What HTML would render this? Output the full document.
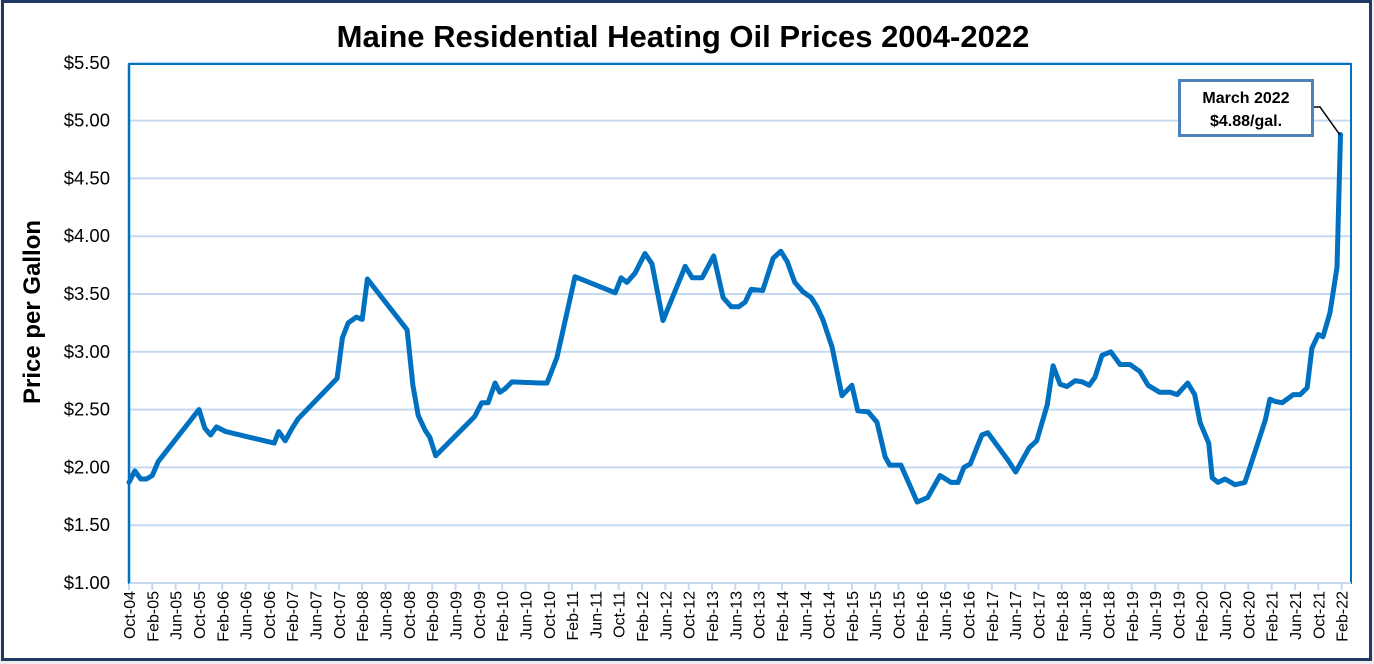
<!DOCTYPE html>
<html><head><meta charset="utf-8"><style>
html,body{margin:0;padding:0;background:#fff;}
svg{display:block;font-family:"Liberation Sans",sans-serif;}
</style></head><body>
<svg id="chart" width="1374" height="664" viewBox="0 0 1374 664" xmlns="http://www.w3.org/2000/svg">
<rect x="0" y="0" width="1374" height="664" fill="#eeeeee"/>
<rect x="2.5" y="1.5" width="1368" height="658" fill="#fff" stroke="#203864" stroke-width="3"/>
<text x="683" y="47" text-anchor="middle" font-size="31" font-weight="bold" fill="#000">Maine Residential Heating Oil Prices 2004-2022</text>
<g id="grid"></g>
<g id="yticks"></g>
<g id="xticks"></g>
<rect x="129" y="64" width="1222" height="519" fill="none" stroke="#0070c0" stroke-width="2"/>
<line x1="129" y1="583" x2="1351" y2="583" stroke="#c5d9f1" stroke-width="2"/>
<line x1="129" y1="64" x2="129" y2="583" stroke="#0070c0" stroke-width="2.5"/>
<text transform="translate(40,312) rotate(-90)" text-anchor="middle" font-size="24" font-weight="bold">Price per Gallon</text>
<g id="series"></g>
<polyline points="1313,107 1320,107 1340,135" fill="none" stroke="#000" stroke-width="1.5"/>
<rect x="1179.5" y="80.5" width="133" height="55" fill="#fff" stroke="#4f81bd" stroke-width="3"/>
<text x="1246" y="103" text-anchor="middle" font-size="16" font-weight="bold">March 2022</text>
<text x="1246" y="126" text-anchor="middle" font-size="16" font-weight="bold">$4.88/gal.</text>
</svg>
<script>
// months since Oct 2004
const months = [0,1,2,3,4,5,12,13,14,15,16.6,24.9,25.7,26.8,28,29,35.7,36.6,37.6,39,40,40.9,47.7,48.7,49.6,50.8,51.6,52.6,59.3,60.5,61.6,62.8,63.6,64.5,65.7,70.5,71.7,73.4,76.5,83.4,84.4,85.4,86.8,88.5,89.7,91.6,95.4,96.6,98.3,100.3,101.9,103.3,104.6,105.7,106.7,108.7,110.5,111.8,112.9,114.2,115.6,117,118,119,120.6,121.4,122.3,124,125,126.8,128.3,129.7,130.5,132.4,135.2,137,139.1,141,142.2,143.2,144.3,146.3,147.3,148.2,150.8,152.1,154.4,155.7,157.5,158.5,159.7,160.9,162.3,163.5,164.7,165.7,166.9,168.4,170,171.7,173.4,174.8,176.8,178.6,179.8,181.6,182.8,183.7,185.2,185.8,186.8,188,189.7,191.4,193.5,194.9,195.7,196.6,197.8,199.7,200.9,202.1,202.9,204,204.8,206,207.2,207.8];
const prices = [1.87,1.97,1.90,1.90,1.93,2.05,2.50,2.34,2.28,2.35,2.31,2.21,2.31,2.23,2.34,2.42,2.77,3.12,3.25,3.30,3.28,3.63,3.19,2.71,2.45,2.32,2.26,2.10,2.44,2.56,2.56,2.73,2.65,2.68,2.74,2.73,2.73,2.95,3.65,3.51,3.64,3.60,3.68,3.85,3.76,3.27,3.74,3.64,3.64,3.83,3.47,3.39,3.39,3.43,3.54,3.53,3.81,3.87,3.78,3.60,3.52,3.47,3.39,3.28,3.04,2.84,2.62,2.71,2.49,2.48,2.39,2.09,2.02,2.02,1.70,1.74,1.93,1.87,1.87,2.00,2.03,2.28,2.30,2.24,2.06,1.96,2.17,2.23,2.54,2.88,2.72,2.70,2.75,2.74,2.71,2.78,2.97,3.00,2.89,2.89,2.83,2.71,2.65,2.65,2.63,2.73,2.63,2.39,2.21,1.91,1.87,1.90,1.85,1.87,2.19,2.41,2.59,2.57,2.56,2.63,2.63,2.69,3.03,3.15,3.13,3.34,3.73,4.88];
const yTicks = [1.00,1.50,2.00,2.50,3.00,3.50,4.00,4.50,5.00,5.50];
const xTickLabels = ["Oct-04","Feb-05","Jun-05","Oct-05","Feb-06","Jun-06","Oct-06","Feb-07","Jun-07","Oct-07","Feb-08","Jun-08","Oct-08","Feb-09","Jun-09","Oct-09","Feb-10","Jun-10","Oct-10","Feb-11","Jun-11","Oct-11","Feb-12","Jun-12","Oct-12","Feb-13","Jun-13","Oct-13","Feb-14","Jun-14","Oct-14","Feb-15","Jun-15","Oct-15","Feb-16","Jun-16","Oct-16","Feb-17","Jun-17","Oct-17","Feb-18","Jun-18","Oct-18","Feb-19","Jun-19","Oct-19","Feb-20","Jun-20","Oct-20","Feb-21","Jun-21","Oct-21","Feb-22"];

const NS = "http://www.w3.org/2000/svg";
const X0 = 129, PXM = 5.83, Y0 = 583, PXD = 115.6;
function xScale(m){ return X0 + m*PXM; }
function yScale(v){ return Y0 - (v-1)*PXD; }

const grid = document.getElementById('grid');
const yt = document.getElementById('yticks');
yTicks.forEach(v=>{
  const y = yScale(v);
  if (v > 1.0) {
    const l = document.createElementNS(NS,'line');
    l.setAttribute('x1',X0); l.setAttribute('x2',1351); l.setAttribute('y1',y); l.setAttribute('y2',y);
    l.setAttribute('stroke','#c5d9f1'); l.setAttribute('stroke-width','2');
    
    
    grid.appendChild(l);
  }
  const t = document.createElementNS(NS,'text');
  t.setAttribute('x',110); t.setAttribute('y',y+6); t.setAttribute('text-anchor','end'); t.setAttribute('font-size','18.5');
  t.textContent = '$'+v.toFixed(2);
  
  
  yt.appendChild(t);
});

const xt = document.getElementById('xticks');
xTickLabels.forEach((lab,i)=>{
  const x = xScale(i*4);
  const tk = document.createElementNS(NS,'line');
  tk.setAttribute('x1',x); tk.setAttribute('x2',x); tk.setAttribute('y1',583); tk.setAttribute('y2',590);
  tk.setAttribute('stroke','#c5d9f1'); tk.setAttribute('stroke-width','2');
  
  
  xt.appendChild(tk);
  const t = document.createElementNS(NS,'text');
  t.setAttribute('transform','translate('+(x+6)+',591) rotate(-90)');
  t.setAttribute('text-anchor','end'); t.setAttribute('font-size','16');
  t.textContent = lab;
  
  
  xt.appendChild(t);
});

const series = document.getElementById('series');
const pts = months.map((m,i)=>xScale(m).toFixed(1)+','+yScale(prices[i]).toFixed(1)).join(' ');
const pl = document.createElementNS(NS,'polyline');
pl.setAttribute('points',pts); pl.setAttribute('fill','none'); pl.setAttribute('stroke','#0070c0');
pl.setAttribute('stroke-width','5'); pl.setAttribute('stroke-linejoin','round'); pl.setAttribute('stroke-linecap','round');


series.appendChild(pl);
</script>
</body></html>
